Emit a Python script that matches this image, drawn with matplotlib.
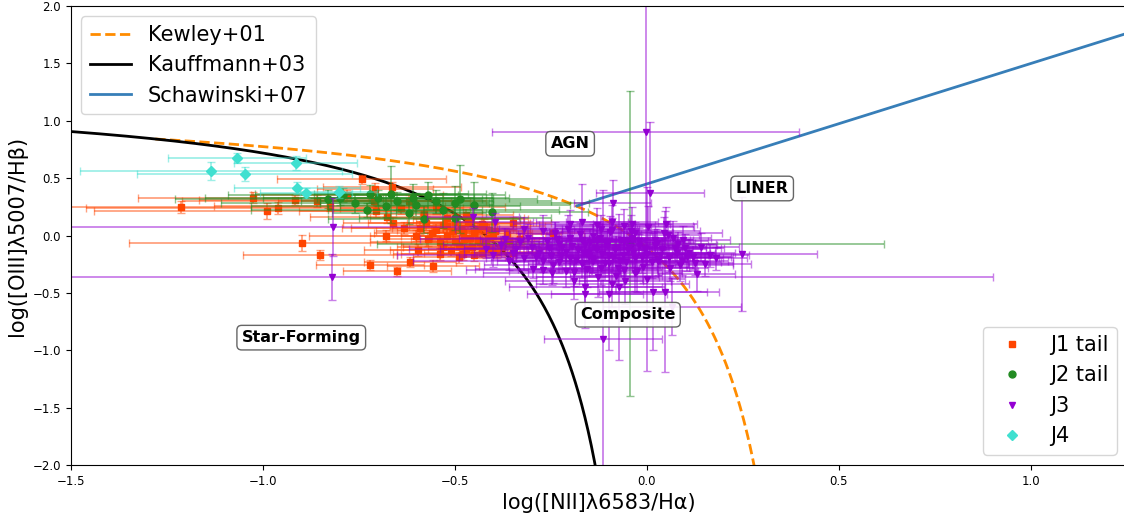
import numpy as np
import matplotlib
matplotlib.use("Agg")
import matplotlib.pyplot as plt

# J1 tail: x, y, xerr, yerr
j1_x = [-1.214, -1.026, -0.99, -0.917, -0.898, -0.852, -0.826, -0.742, -0.721, -0.651,
        -0.708, -0.706, -0.664, -0.633, -0.617, -0.557, -0.596, -0.661, -0.576, -0.677,
        -0.349, -0.245, -0.78, -0.62, -0.55, -0.55, -0.52, -0.50, -0.48, -0.46,
        -0.44, -0.42, -0.47, -0.53, -0.40, -0.39, -0.45, -0.50, -0.57, -0.43,
        -0.49, -0.36, -0.41, -0.58, -0.64, -0.47, -0.54, -0.38, -0.60, -0.52,
        -0.44, -0.71, -0.86, -0.96, -0.68,
        -0.56, -0.54, -0.53, -0.51, -0.505, -0.49, -0.485, -0.475, -0.465, -0.455,
        -0.45, -0.435, -0.425, -0.415, -0.405, -0.395, -0.375, -0.365, -0.35, -0.33,
        -0.52, -0.48, -0.43, -0.59, -0.46]
j1_y = [0.25, 0.33, 0.21, 0.31, -0.065, -0.17, 0.26, 0.49, -0.257, -0.31,
        0.405, 0.213, 0.423, 0.065, -0.23, -0.266, -0.126, 0.11, 0.11, 0.161,
        0.109, 0.02, 0.35, 0.30, 0.25, 0.05, 0.0, -0.05, 0.03, -0.02,
        0.06, -0.08, -0.12, -0.10, 0.0, -0.14, -0.17, 0.12, -0.03, 0.10,
        -0.19, -0.05, 0.05, 0.19, 0.24, 0.18, -0.16, -0.10, 0.0, 0.08,
        -0.04, 0.30, 0.30, 0.24, 0.0,
        0.02, -0.06, 0.09, -0.13, 0.04, -0.08, 0.07, -0.03, 0.11, -0.10,
        0.02, -0.06, 0.08, -0.02, -0.12, 0.04, -0.07, 0.01, -0.15, -0.03,
        0.15, -0.16, -0.15, 0.07, 0.14]
j1_xerr = [0.38, 0.30, 0.45, 0.25, 0.45, 0.20, 0.30, 0.22, 0.14, 0.14,
           0.15, 0.20, 0.18, 0.16, 0.12, 0.12, 0.14, 0.13, 0.15, 0.20,
           0.10, 0.08, 0.25, 0.20, 0.18, 0.10, 0.12, 0.10, 0.08, 0.10,
           0.09, 0.10, 0.10, 0.12, 0.08, 0.10, 0.09, 0.10, 0.11, 0.10,
           0.12, 0.08, 0.07, 0.15, 0.16, 0.12, 0.10, 0.08, 0.12, 0.10,
           0.10, 0.25, 0.35, 0.50, 0.20,
           0.15, 0.18, 0.14, 0.16, 0.20, 0.15, 0.18, 0.14, 0.16, 0.18,
           0.15, 0.14, 0.16, 0.15, 0.14, 0.12, 0.12, 0.14, 0.12, 0.10,
           0.20, 0.18, 0.15, 0.18, 0.15]
j1_yerr = [0.05, 0.05, 0.07, 0.04, 0.07, 0.04, 0.05, 0.04, 0.04, 0.04,
           0.05, 0.05, 0.04, 0.05, 0.04, 0.05, 0.05, 0.05, 0.06, 0.05,
           0.05, 0.04, 0.05, 0.05, 0.06, 0.05, 0.06, 0.05, 0.05, 0.06,
           0.05, 0.05, 0.06, 0.05, 0.05, 0.06, 0.05, 0.06, 0.06, 0.05,
           0.05, 0.04, 0.05, 0.06, 0.05, 0.05, 0.05, 0.05, 0.05, 0.05,
           0.05, 0.05, 0.05, 0.05, 0.05,
           0.06, 0.05, 0.06, 0.05, 0.06, 0.05, 0.05, 0.06, 0.05, 0.06,
           0.05, 0.05, 0.06, 0.05, 0.05, 0.06, 0.05, 0.05, 0.05, 0.05,
           0.06, 0.05, 0.05, 0.06, 0.05]

# J2 tail
j2_x = [-0.487, -0.404, -0.044, -0.792, -0.70, -0.65, -0.60, -0.57, -0.53, -0.62,
        -0.76, -0.58, -0.667, -0.45, -0.73, -0.50, -0.83, -0.80,
        -0.55, -0.68, -0.72, -0.61, -0.50]
j2_y = [0.318, 0.205, -0.07, 0.353, 0.33, 0.30, 0.27, 0.35, 0.22, 0.20,
        0.28, 0.14, 0.36, 0.27, 0.22, 0.15, 0.32, 0.33,
        0.30, 0.26, 0.36, 0.33, 0.28]
j2_xerr = [0.20, 0.25, 0.66, 0.30, 0.30, 0.25, 0.20, 0.20, 0.30, 0.20,
           0.35, 0.25, 0.20, 0.25, 0.30, 0.25, 0.40, 0.35,
           0.30, 0.35, 0.30, 0.25, 0.35]
j2_yerr = [0.30, 0.17, 1.33, 0.06, 0.07, 0.08, 0.10, 0.12, 0.15, 0.10,
           0.08, 0.12, 0.25, 0.20, 0.06, 0.10, 0.08, 0.06,
           0.10, 0.10, 0.08, 0.12, 0.15]

# J3
j3_x = [-0.003, 0.008, -0.089, -0.169, 0.247, -0.82, -0.818, -0.115, -0.453, -0.396,
        -0.297, -0.247, -0.073, -0.099, 0.016, 0.047, 0.13, 0.104, 0.068, 0.055,
        0.026, 0.003, -0.031, -0.052, 0.12, 0.078, 0.091, -0.057, -0.161, -0.23,
        -0.30, -0.28, -0.26, -0.25, -0.22, -0.20, -0.20, -0.18, -0.17, -0.16,
        -0.15, -0.14, -0.13, -0.12, -0.11, -0.10, -0.09, -0.08, -0.07, -0.06,
        -0.05, -0.04, -0.03, -0.02, -0.01, 0.0, 0.02, 0.03, 0.04, -0.19,
        -0.23, -0.27, -0.33, -0.35, -0.32, -0.14, -0.12, -0.08, -0.17, -0.21,
        -0.10, -0.06, -0.03, 0.0, 0.06, 0.08, 0.10, 0.15, 0.18, -0.15,
        -0.13, -0.24, -0.38, -0.42, -0.09, -0.04, 0.05, 0.065,
        -0.31, -0.29, -0.27, -0.255, -0.245, -0.235, -0.225, -0.21, -0.205, -0.195,
        -0.185, -0.175, -0.165, -0.155, -0.148, -0.142, -0.136, -0.128, -0.122, -0.117,
        -0.108, -0.103, -0.096, -0.088, -0.082, -0.076, -0.068, -0.062, -0.054, -0.047,
        -0.041, -0.035, -0.027, -0.02, -0.012, -0.005, 0.012, 0.022, 0.035, 0.045,
        0.058, 0.072, 0.085, 0.095, 0.11, 0.125, 0.14, 0.165, -0.34, -0.37,
        -0.36, -0.32, -0.40, -0.27, -0.19, -0.13, -0.06, -0.16, -0.09, -0.20]
j3_y = [0.90, 0.37, 0.283, 0.118, -0.161, -0.36, 0.074, -0.902, 0.161, 0.118,
        -0.292, -0.327, -0.449, -0.51, -0.49, -0.49, -0.336, -0.187, -0.022, 0.004,
        -0.065, 0.074, 0.022, -0.04, -0.19, -0.153, -0.22, -0.40, -0.51, -0.23,
        -0.10, -0.15, -0.05, -0.18, -0.10, -0.20, -0.02, -0.13, -0.25, -0.08,
        -0.18, 0.0, -0.12, -0.28, -0.06, -0.17, 0.05, -0.10, -0.22, -0.30,
        -0.13, -0.02, -0.20, -0.09, -0.27, -0.16, -0.04, -0.22, -0.12, -0.32,
        -0.07, -0.22, -0.06, -0.15, -0.20, -0.22, 0.06, -0.35, -0.04, -0.14,
        -0.24, -0.06, -0.33, -0.38, -0.28, -0.07, -0.11, -0.25, -0.20, -0.14,
        -0.05, 0.02, -0.08, -0.12, 0.12, 0.10, 0.10, -0.62,
        -0.02, -0.19, 0.04, -0.11, -0.26, -0.03, -0.17, -0.31, 0.06, -0.09,
        -0.21, 0.01, -0.15, -0.29, -0.06, -0.20, -0.11, -0.36, -0.02, -0.16,
        -0.24, -0.08, 0.03, -0.19, -0.13, -0.28, -0.04, -0.17, -0.23, -0.10,
        0.04, -0.15, -0.31, -0.05, -0.19, -0.12, -0.23, -0.08, -0.17, 0.02,
        -0.20, -0.11, -0.26, -0.04, -0.15, -0.24, -0.10, -0.17, -0.12, -0.03,
        -0.22, 0.06, -0.17, -0.30, -0.40, 0.09, 0.08, -0.45, -0.42, 0.10]
j3_xerr = [0.40, 0.14, 0.10, 0.12, 0.195, 1.72, 0.70, 0.154, 0.12, 0.10,
           0.15, 0.18, 0.12, 0.15, 0.14, 0.14, 0.10, 0.12, 0.10, 0.08,
           0.10, 0.12, 0.10, 0.10, 0.10, 0.10, 0.12, 0.12, 0.15, 0.12,
           0.12, 0.10, 0.12, 0.10, 0.15, 0.12, 0.10, 0.12, 0.14, 0.10,
           0.12, 0.10, 0.12, 0.10, 0.10, 0.12, 0.10, 0.10, 0.12, 0.10,
           0.10, 0.10, 0.12, 0.10, 0.12, 0.10, 0.10, 0.12, 0.10, 0.12,
           0.12, 0.12, 0.10, 0.10, 0.10, 0.10, 0.10, 0.12, 0.10, 0.10,
           0.10, 0.10, 0.12, 0.10, 0.10, 0.10, 0.10, 0.12, 0.08, 0.10,
           0.10, 0.12, 0.15, 0.20, 0.12, 0.10, 0.08, 0.18,
           0.18, 0.20, 0.15, 0.22, 0.18, 0.20, 0.25, 0.15, 0.18, 0.20,
           0.22, 0.16, 0.20, 0.18, 0.22, 0.20, 0.18, 0.16, 0.20, 0.22,
           0.18, 0.20, 0.16, 0.20, 0.18, 0.20, 0.18, 0.22, 0.16, 0.20,
           0.18, 0.20, 0.16, 0.18, 0.20, 0.16, 0.18, 0.16, 0.14, 0.15,
           0.14, 0.12, 0.14, 0.12, 0.12, 0.10, 0.10, 0.10, 0.20, 0.22,
           0.25, 0.18, 0.25, 0.20, 0.18, 0.15, 0.18, 0.20, 0.20, 0.15]
j3_yerr = [1.15, 0.62, 0.20, 0.33, 0.50, 0.20, 0.25, 1.30, 0.08, 0.08,
           0.08, 0.10, 0.64, 0.49, 0.51, 0.70, 0.15, 0.12, 0.15, 0.10,
           0.12, 0.18, 0.10, 0.12, 0.10, 0.10, 0.12, 0.20, 0.30, 0.10,
           0.08, 0.10, 0.10, 0.12, 0.10, 0.12, 0.10, 0.10, 0.12, 0.10,
           0.10, 0.10, 0.12, 0.15, 0.10, 0.12, 0.10, 0.10, 0.12, 0.15,
           0.10, 0.12, 0.12, 0.10, 0.14, 0.10, 0.10, 0.12, 0.10, 0.12,
           0.10, 0.10, 0.08, 0.08, 0.10, 0.10, 0.12, 0.15, 0.10, 0.10,
           0.10, 0.10, 0.15, 0.80, 0.12, 0.10, 0.12, 0.10, 0.10, 0.10,
           0.10, 0.10, 0.08, 0.08, 0.15, 0.15, 0.15, 0.25,
           0.12, 0.10, 0.14, 0.12, 0.15, 0.10, 0.12, 0.14, 0.12, 0.15,
           0.12, 0.10, 0.14, 0.16, 0.12, 0.14, 0.10, 0.18, 0.12, 0.14,
           0.15, 0.12, 0.14, 0.12, 0.10, 0.16, 0.12, 0.14, 0.12, 0.12,
           0.14, 0.12, 0.18, 0.12, 0.14, 0.10, 0.14, 0.12, 0.12, 0.14,
           0.12, 0.10, 0.14, 0.12, 0.12, 0.10, 0.12, 0.10, 0.10, 0.10,
           0.08, 0.10, 0.10, 0.12, 0.15, 0.15, 0.15, 0.20, 0.20, 0.12]

# J4
j4_x = [-1.068, -1.135, -1.047, -0.914, -0.911, -0.888, -0.802]
j4_y = [0.675, 0.562, 0.536, 0.632, 0.414, 0.37, 0.379]
j4_xerr = [0.18, 0.34, 0.28, 0.16, 0.165, 0.12, 0.10]
j4_yerr = [0.04, 0.08, 0.06, 0.06, 0.05, 0.04, 0.05]

fig = plt.figure(figsize=(11.24, 5.18), dpi=100)
ax = fig.add_axes([0.063, 0.1023, 0.9397, 0.886])

# demarcation lines
xk = np.linspace(-1.28, 0.3, 500)
l1, = ax.plot(xk, 0.61 / (xk - 0.47) + 1.19, '--', color='darkorange', lw=2, label='Kewley+01')
xa = np.linspace(-1.5, -0.12, 500)
l2, = ax.plot(xa, 0.61 / (xa - 0.05) + 1.3, '-', color='black', lw=2, label='Kauffmann+03')
xs = np.linspace(-0.182, 1.5, 10)
l3, = ax.plot(xs, 1.05 * xs + 0.45, '-', color='#377eb8', lw=2, label='Schawinski+07')

groups = [
    (j1_x, j1_y, j1_xerr, j1_yerr, 'orangered', 's', 'J1 tail'),
    (j2_x, j2_y, j2_xerr, j2_yerr, 'forestgreen', 'o', 'J2 tail'),
    (j3_x, j3_y, j3_xerr, j3_yerr, 'darkviolet', 'v', 'J3'),
    (j4_x, j4_y, j4_xerr, j4_yerr, 'turquoise', 'D', 'J4'),
]
handles = []
for gx, gy, gxe, gye, c, m, lab in groups:
    ax.errorbar(gx, gy, xerr=gxe, yerr=gye, fmt='none', ecolor=c, alpha=0.5,
                capsize=3, elinewidth=1.3)
    h, = ax.plot(gx, gy, m, color=c, ms=5, ls='none', label=lab)
    handles.append(h)

box = dict(boxstyle='round', facecolor='white', edgecolor='#555555', alpha=0.9)
ax.text(-0.2, 0.8, 'AGN', fontsize=11.5, fontweight='bold', ha='center', va='center', bbox=box)
ax.text(0.3, 0.41, 'LINER', fontsize=11.5, fontweight='bold', ha='center', va='center', bbox=box)
ax.text(-0.05, -0.69, 'Composite', fontsize=11.5, fontweight='bold', ha='center', va='center', bbox=box)
ax.text(-0.9, -0.89, 'Star-Forming', fontsize=11.5, fontweight='bold', ha='center', va='center', bbox=box)

leg1 = ax.legend(handles=[l1, l2, l3], loc='upper left', fontsize=15)
ax.add_artist(leg1)
ax.legend(handles=handles, loc='lower right', fontsize=15)

ax.set_xlim(-1.5, 1.25)
ax.set_ylim(-2.0, 2.0)
ax.tick_params(labelsize=8.5)
ax.set_xlabel('log([NII]λ6583/Hα)', fontsize=15)
ax.set_ylabel('log([OIII]λ5007/Hβ)', fontsize=15)

fig.savefig('out.png', dpi=100)
